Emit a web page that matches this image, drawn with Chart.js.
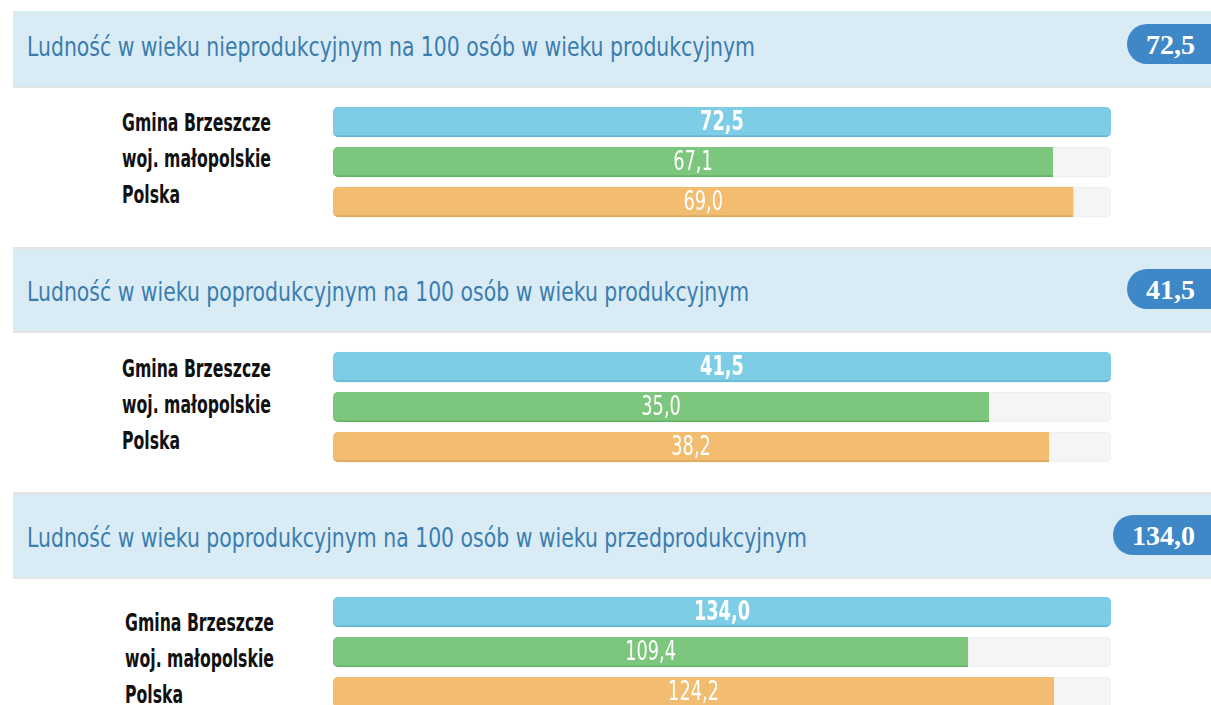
<!DOCTYPE html>
<html>
<head>
<meta charset="utf-8">
<script src="https://cdn.jsdelivr.net/npm/chart.js@4/dist/chart.umd.min.js"></script>
<style>
  html, body { margin: 0; padding: 0; background: #fff; width: 1211px; height: 705px; overflow: hidden; position: relative; }
  .hdr { position: absolute; left: 13px; width: 1230px; background: #d9ecf5; border-bottom: 2px solid #e4e4e4; }
  .hdr.top { border-top: 2px solid #e4e4e4; }
  .title { position: absolute; left: 27px; white-space: nowrap; font-family: "DejaVu Sans Condensed", "DejaVu Sans", sans-serif; font-size: 27px; color: #3b7cb0; transform-origin: left center; line-height: 30px; }
  .pill { position: absolute; right: -30px; height: 40px; line-height: 41px; padding: 0 46px 0 19px; border-radius: 20px; background: #3f88c8; color: #fff; font-family: "Liberation Serif", serif; font-weight: bold; font-size: 28px; }
  .lbl { position: absolute; white-space: nowrap; font-family: "DejaVu Sans Condensed", "DejaVu Sans", sans-serif; font-weight: bold; font-size: 24px; color: #111; transform-origin: left center; line-height: 26px; }
  .cv { position: absolute; left: 333px; width: 778px; height: 120px; }
</style>
</head>
<body>
<script>
// ---- data ----
const titles = [
  'Ludność w wieku nieprodukcyjnym na 100 osób w wieku produkcyjnym',
  'Ludność w wieku poprodukcyjnym na 100 osób w wieku produkcyjnym',
  'Ludność w wieku poprodukcyjnym na 100 osób w wieku przedprodukcyjnym'
];
const regions = ['Gmina Brzeszcze', 'woj. małopolskie', 'Polska'];
const nonProductive = [72.5, 67.1, 69.0];
const postProductive = [41.5, 35.0, 38.2];
const postToPre = [134.0, 109.4, 124.2];
const seriesList = [nonProductive, postProductive, postToPre];
const barColors = ['#7ecde6', '#7dc67d', '#f2bd70'];
const barEdge = ['#68b7d4', '#69b369', '#ddaa62'];

// ---- layout (positions only) ----
const panels = [
  { hdrTop: 11, hdrH: 75, topBorder: false, B: 86, lblTop: 123, lblX: 122, cvTop: 102 },
  { hdrTop: 247, hdrH: 82, topBorder: true, B: 331, lblTop: 369, lblX: 122, cvTop: 347 },
  { hdrTop: 492, hdrH: 83, topBorder: true, B: 577, lblTop: 623, lblX: 125, cvTop: 592 }
];
const fmt = v => v.toFixed(1).replace('.', ',');

const valueLabels = {
  id: 'valueLabels',
  afterDatasetsDraw(chart) {
    const ctx = chart.ctx;
    const meta = chart.getDatasetMeta(0);
    const data = chart.data.datasets[0].data;
    meta.data.forEach((bar, i) => {
      const cx = (bar.x + bar.base) / 2;
      ctx.save();
      ctx.font = (i === 0 ? 'bold ' : '') + '26px "DejaVu Sans Condensed", "DejaVu Sans", sans-serif';
      ctx.fillStyle = '#ffffff';
      ctx.textAlign = 'center';
      ctx.textBaseline = 'middle';
      ctx.translate(cx, bar.y + 1);
      ctx.scale(0.76, 1);
      ctx.fillText(fmt(data[i]), 0, 0);
      ctx.restore();
    });
  }
};

const titleEls = [];
const lblEls = [];
panels.forEach((p, k) => {
  const vals = seriesList[k];
  const hdr = document.createElement('div');
  hdr.className = 'hdr' + (p.topBorder ? ' top' : '');
  hdr.style.top = p.hdrTop + 'px';
  hdr.style.height = p.hdrH + 'px';
  document.body.appendChild(hdr);

  const t = document.createElement('div');
  t.className = 'title';
  t.textContent = titles[k];
  t.style.top = (p.B - 39 - 15) + 'px';
  document.body.appendChild(t);
  titleEls.push(t);

  const pill = document.createElement('div');
  pill.className = 'pill';
  pill.textContent = fmt(vals[0]);
  pill.style.top = (p.B - 62) + 'px';
  document.body.appendChild(pill);

  regions.forEach((r, i) => {
    const l = document.createElement('div');
    l.className = 'lbl';
    l.textContent = r;
    l.style.left = p.lblX + 'px';
    l.style.top = (p.lblTop + i * 36 - 13) + 'px';
    document.body.appendChild(l);
    lblEls.push(l);
  });

  const c = document.createElement('canvas');
  c.className = 'cv';
  c.style.top = p.cvTop + 'px';
  c.width = 778; c.height = 120;
  document.body.appendChild(c);

  const maxV = Math.max(...vals);
  new Chart(c, {
    type: 'bar',
    data: {
      labels: regions,
      datasets: [
        {
          data: vals,
          backgroundColor: barColors,
          borderColor: barEdge,
          borderWidth: { top: 0, left: 0, right: 0, bottom: 2 },
          borderSkipped: false,
          borderRadius: ctx => (vals[ctx.dataIndex] >= maxV ? 5 : { topLeft: 5, bottomLeft: 5, topRight: 0, bottomRight: 0 }),
          barThickness: 30,
          grouped: false,
          order: 0
        },
        {
          data: vals.map(() => maxV),
          backgroundColor: '#f5f5f5',
          borderColor: '#ececec',
          borderWidth: 1,
          borderSkipped: false,
          borderRadius: 5,
          barThickness: 30,
          grouped: false,
          order: 1
        }
      ]
    },
    options: {
      indexAxis: 'y',
      responsive: false,
      animation: false,
      events: [],
      layout: { padding: 0 },
      scales: {
        x: { display: false, min: 0, max: maxV },
        y: { display: false }
      },
      plugins: { legend: { display: false }, tooltip: { enabled: false } }
    },
    plugins: [valueLabels]
  });
});

// horizontal fitting to match reference proportions
const titleScale = 728 / titleEls[0].getBoundingClientRect().width;
titleEls.forEach(e => e.style.transform = 'scaleX(' + titleScale + ')');
const lblScale = 149 / lblEls[0].getBoundingClientRect().width;
lblEls.forEach(e => e.style.transform = 'scaleX(' + lblScale + ')');
</script>
</body>
</html>
